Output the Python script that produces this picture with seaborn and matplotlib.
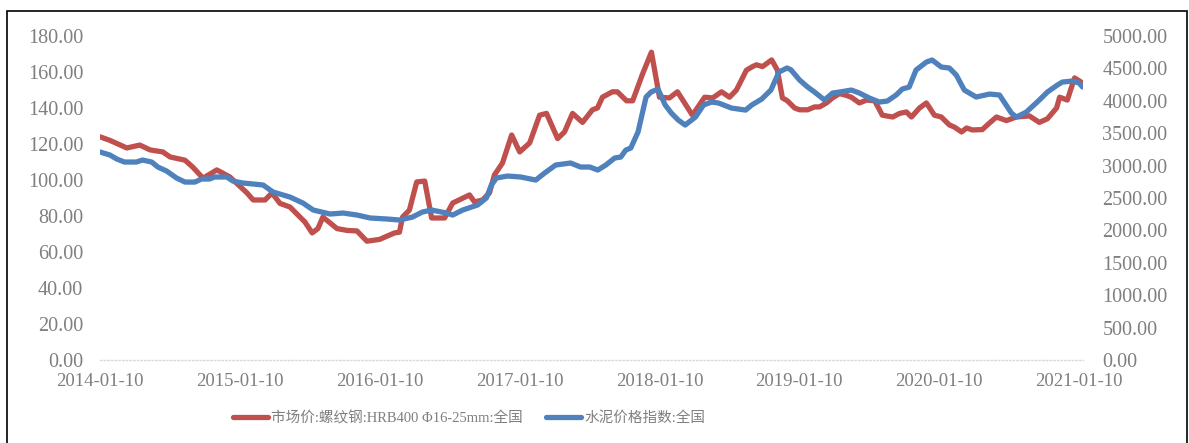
import numpy as np
import pandas as pd
import matplotlib.pyplot as plt
import matplotlib.dates as mdates
from matplotlib.patches import Rectangle
import seaborn as sns

# 市场价:螺纹钢 (左轴)
steel_dates = ['2014-01-10', '2014-02-05', '2014-03-21', '2014-04-24', '2014-05-21', '2014-06-23',
               '2014-07-12', '2014-08-20', '2014-09-10', '2014-10-06', '2014-11-11', '2014-12-15',
               '2015-01-29', '2015-02-14', '2015-03-17', '2015-04-04', '2015-04-25', '2015-05-21',
               '2015-06-29', '2015-07-18', '2015-08-02', '2015-08-15', '2015-09-21', '2015-10-17',
               '2015-11-12', '2015-12-08', '2016-01-10', '2016-02-18', '2016-03-02', '2016-03-10',
               '2016-03-28', '2016-04-16', '2016-05-07', '2016-05-25', '2016-06-28', '2016-07-19',
               '2016-09-01', '2016-09-14', '2016-10-05', '2016-10-23', '2016-11-05', '2016-11-26',
               '2016-12-20', '2017-01-10', '2017-02-05', '2017-03-03', '2017-03-21', '2017-04-19',
               '2017-05-07', '2017-05-28', '2017-06-23', '2017-07-19', '2017-08-01', '2017-08-14',
               '2017-09-09', '2017-09-22', '2017-10-16', '2017-11-01', '2017-11-27', '2017-12-20',
               '2018-01-10', '2018-02-05', '2018-02-26', '2018-04-06', '2018-05-08', '2018-05-29',
               '2018-06-21', '2018-07-12', '2018-07-30', '2018-08-25', '2018-09-10', '2018-09-20',
               '2018-10-06', '2018-10-30', '2018-11-14', '2018-11-27', '2018-12-10', '2018-12-29',
               '2019-01-11', '2019-02-01', '2019-02-19', '2019-03-04', '2019-03-22', '2019-04-07',
               '2019-04-25', '2019-05-13', '2019-05-26', '2019-06-16', '2019-07-05', '2019-07-26',
               '2019-08-15', '2019-09-11', '2019-09-29', '2019-10-17', '2019-10-30', '2019-11-20',
               '2019-12-08', '2019-12-29', '2020-01-16', '2020-02-06', '2020-02-19', '2020-03-09',
               '2020-03-22', '2020-04-06', '2020-05-02', '2020-05-21', '2020-06-08', '2020-07-04',
               '2020-07-30', '2020-09-02', '2020-09-28', '2020-10-19', '2020-11-12', '2020-11-20',
               '2020-12-10', '2020-12-29', '2021-01-19']
steel_vals = [124.0, 122.0, 117.8, 119.4, 116.7, 115.6,
              112.8, 111.0, 107.0, 101.0, 105.6, 101.7,
              92.8, 88.9, 88.9, 92.8, 87.0, 85.0,
              76.7, 70.6, 73.0, 79.4, 73.0, 72.0,
              71.7, 66.0, 67.0, 70.6, 71.0, 79.4,
              83.3, 98.9, 99.4, 78.9, 78.9, 87.2,
              91.7, 87.8, 88.9, 92.8, 102.8, 109.4,
              125.0, 115.6, 120.6, 136.0, 137.0, 123.0,
              126.7, 137.0, 132.0, 139.0, 140.0, 146.0,
              149.0, 149.0, 144.0, 144.0, 159.0, 171.0,
              146.0, 145.6, 149.0, 136.0, 146.0, 145.6,
              149.0, 146.0, 150.0, 161.0, 163.0, 164.0,
              163.0, 166.7, 161.0, 145.6, 144.0, 140.0,
              139.0, 139.0, 140.6, 140.6, 142.8, 145.6,
              148.0, 147.0, 146.0, 142.8, 144.4, 144.0,
              136.0, 135.0, 137.0, 137.8, 135.0, 140.0,
              142.8, 136.0, 135.0, 130.6, 129.4, 126.7,
              128.9, 127.8, 128.0, 131.7, 135.0, 133.0,
              135.0, 135.6, 132.0, 134.0, 140.0, 146.0,
              144.4, 156.7, 153.9]

# 水泥价格指数 (右轴)
cement_dates = ['2014-01-10', '2014-02-05', '2014-02-23', '2014-03-15', '2014-04-15', '2014-05-01',
                '2014-05-25', '2014-06-10', '2014-07-03', '2014-07-29', '2014-08-20', '2014-09-15',
                '2014-10-02', '2014-10-23', '2014-11-05', '2014-12-07', '2014-12-23', '2015-01-18',
                '2015-02-14', '2015-03-12', '2015-04-07', '2015-05-21', '2015-06-24', '2015-07-21',
                '2015-09-03', '2015-10-07', '2015-11-12', '2015-12-17', '2016-01-29', '2016-03-02',
                '2016-04-05', '2016-05-01', '2016-05-25', '2016-07-03', '2016-07-19', '2016-08-14',
                '2016-09-06', '2016-09-22', '2016-10-15', '2016-10-28', '2016-11-10', '2016-12-09',
                '2017-01-13', '2017-02-21', '2017-03-16', '2017-04-14', '2017-05-23', '2017-06-18',
                '2017-07-12', '2017-08-02', '2017-08-23', '2017-09-15', '2017-10-01', '2017-10-14',
                '2017-10-27', '2017-11-15', '2017-12-06', '2017-12-19', '2018-01-06', '2018-01-25',
                '2018-02-10', '2018-02-28', '2018-03-18', '2018-04-14', '2018-05-05', '2018-05-26',
                '2018-06-13', '2018-07-17', '2018-08-23', '2018-09-08', '2018-10-04', '2018-10-28',
                '2018-11-18', '2018-12-09', '2018-12-19', '2019-01-11', '2019-02-01', '2019-02-19',
                '2019-03-17', '2019-04-07', '2019-04-25', '2019-05-26', '2019-06-16', '2019-07-12',
                '2019-08-07', '2019-08-28', '2019-09-20', '2019-10-06', '2019-10-24', '2019-11-11',
                '2019-12-08', '2019-12-23', '2020-01-16', '2020-02-06', '2020-02-24', '2020-03-16',
                '2020-04-16', '2020-05-21', '2020-06-16', '2020-07-17', '2020-07-30', '2020-08-25',
                '2020-09-28', '2020-10-19', '2020-11-14', '2020-11-27', '2020-12-23', '2021-01-10',
                '2021-01-19']
cement_vals = [3210, 3163, 3101, 3055, 3055, 3086,
               3055, 2978, 2916, 2808, 2746, 2746,
               2793, 2793, 2824, 2824, 2762, 2731,
               2716, 2700, 2592, 2515, 2422, 2314,
               2253, 2268, 2237, 2191, 2176, 2160,
               2206, 2284, 2314, 2268, 2237, 2314,
               2360, 2392, 2500, 2700, 2808, 2839,
               2824, 2777, 2885, 3009, 3040, 2978,
               2978, 2932, 3009, 3117, 3132, 3240,
               3271, 3518, 4058, 4135, 4181, 3935,
               3811, 3703, 3626, 3749, 3935, 3981,
               3966, 3888, 3857, 3935, 4027, 4166,
               4444, 4506, 4480, 4320, 4212, 4135,
               4012, 4120, 4135, 4166, 4120, 4043,
               3981, 3996, 4089, 4181, 4212, 4475,
               4598, 4629, 4521, 4506, 4398, 4166,
               4058, 4104, 4089, 3811, 3749, 3826,
               4012, 4135, 4243, 4289, 4305, 4274,
               4212]

tick_dates = ['2014-01-10', '2015-01-10', '2016-01-10', '2017-01-10',
              '2018-01-10', '2019-01-10', '2020-01-10', '2021-01-10']
left_ticks = np.arange(0, 181, 20)
right_ticks = np.arange(0, 5001, 500)

steel_label = '市场价:螺纹钢:HRB400 Φ16-25mm:全国'
cement_label = '水泥价格指数:全国'

steel = pd.DataFrame({'date': pd.to_datetime(steel_dates), 'value': steel_vals})
cement = pd.DataFrame({'date': pd.to_datetime(cement_dates), 'value': cement_vals})

sns.set_style('white')
plt.rcParams['font.family'] = ['Liberation Serif', 'Noto Sans CJK SC', 'DejaVu Sans']

red = '#C0504D'
blue = '#4F81BD'
grey = '#7F7F7F'

fig = plt.figure(figsize=(11.89, 4.43), dpi=100)
ax = fig.add_axes([100 / 1189, 1 - 360 / 443, 983 / 1189, 324 / 443])
ax2 = ax.twinx()

sns.lineplot(data=steel, x='date', y='value', ax=ax, color=red, lw=3.8, legend=False)
sns.lineplot(data=cement, x='date', y='value', ax=ax2, color=blue, lw=3.8, legend=False)

ax.set_ylim(0, 180)
ax2.set_ylim(0, 5000)
ax.set_xlim(pd.Timestamp('2014-01-10'), pd.Timestamp('2021-01-20'))
ax.set_yticks(left_ticks)
ax.set_yticklabels([f'{v:.2f}' for v in left_ticks])
ax2.set_yticks(right_ticks)
ax2.set_yticklabels([f'{v:.2f}' for v in right_ticks])
ax.set_xticks(pd.to_datetime(tick_dates))
ax.xaxis.set_major_formatter(mdates.DateFormatter('%Y-%m-%d'))
ax.set_xlabel('')
ax.set_ylabel('')
ax2.set_ylabel('')

for a in (ax, ax2):
    for s in a.spines.values():
        s.set_visible(False)
ax.spines['bottom'].set_visible(True)
ax.spines['bottom'].set_color('#D9D9D9')
ax.spines['bottom'].set_linestyle(':')
ax.spines['bottom'].set_linewidth(1)

ax.tick_params(axis='y', length=0, pad=12, labelsize=14.5, labelcolor=grey)
ax2.tick_params(axis='y', length=0, pad=14, labelsize=14.5, labelcolor=grey)
ax.tick_params(axis='x', length=3, color='#D9D9D9', pad=6, labelsize=13.5, labelcolor=grey)

l1 = ax.get_lines()[0]
l2 = ax2.get_lines()[0]
l1.set_label(steel_label)
l2.set_label(cement_label)
leg = fig.legend(handles=[l1, l2], loc='center left', bbox_to_anchor=(220 / 1189, 1 - 418 / 443),
                 ncol=2, frameon=False, fontsize=10.5, handlelength=2.4, handletextpad=0.2,
                 columnspacing=1.6, labelcolor=grey)
for line in leg.get_lines():
    line.set_linewidth(3.8)

fig.patches.append(Rectangle((7 / 1189, -0.02), 1180 / 1189, 1 - 11 / 443 + 0.02,
                             transform=fig.transFigure, fill=False, edgecolor='black', lw=1.2))

fig.savefig('out.png', dpi=100)
